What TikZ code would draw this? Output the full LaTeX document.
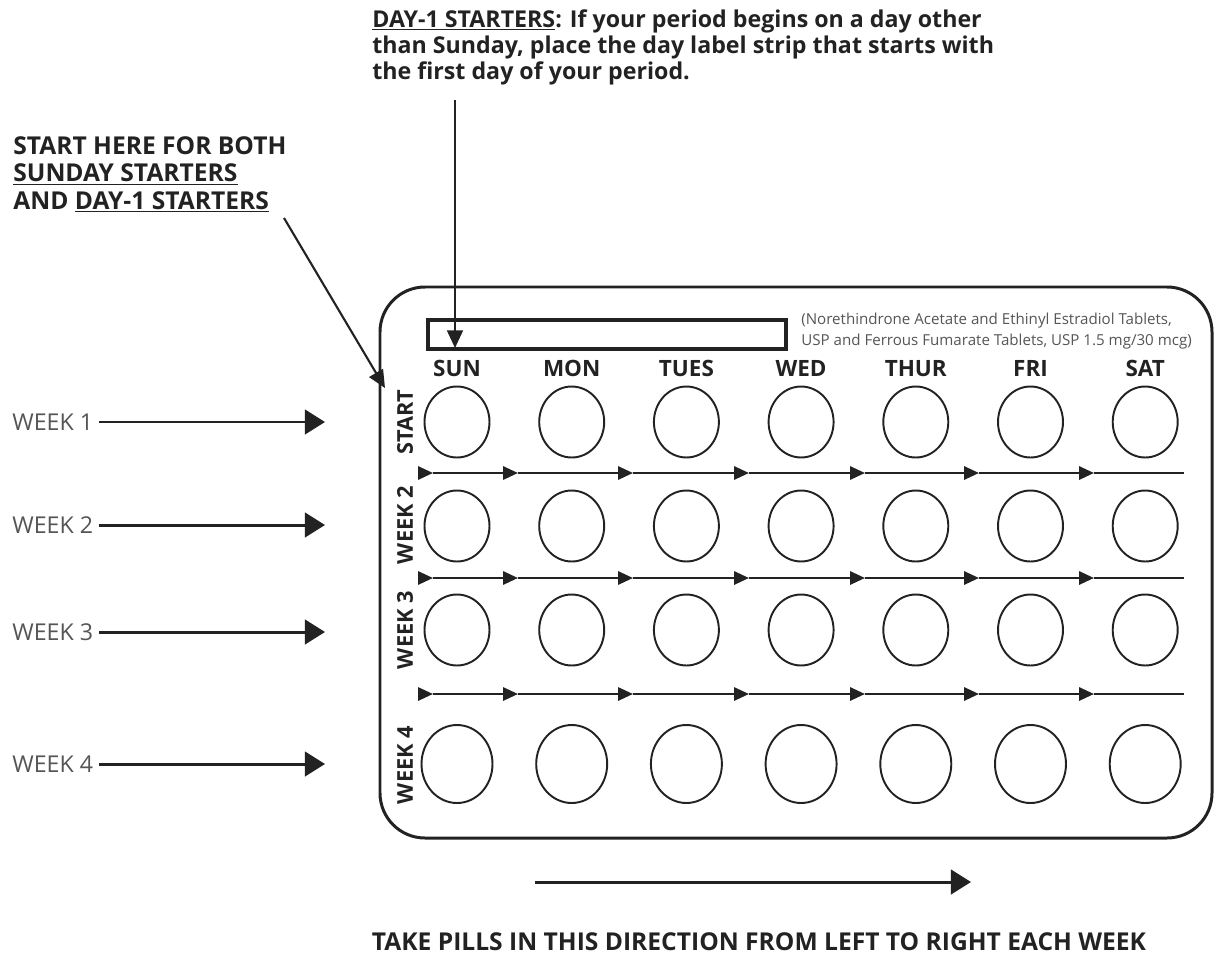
\documentclass[tikz,border=0pt]{standalone}
\usepackage{fontspec}
\setmainfont{Open Sans}
\usetikzlibrary{arrows.meta,shapes.geometric,positioning}

\definecolor{ink}{HTML}{222222}
\definecolor{greyink}{HTML}{555555}

\tikzset{
  blister/.style={draw=ink, line width=1.7pt, rounded corners=0.9cm},
  labelstrip/.style={draw=ink, line width=2pt},
  pill/.style={draw=ink, ellipse, line width=1.1pt, minimum width=1.3cm, minimum height=1.42cm, inner sep=0pt},
  bigpill/.style={pill, minimum width=1.42cm, minimum height=1.56cm},
  daylabel/.style={text=ink, anchor=base, font=\bfseries\fontsize{12.8}{14}\selectfont, inner sep=0pt},
  sidelabel/.style={text=ink, rotate=90, font=\bfseries\fontsize{12.4}{13}\selectfont, inner sep=0pt},
  weeklabel/.style={text=greyink, anchor=west, font=\fontsize{13.2}{14}\selectfont, inner sep=0pt},
  headtext/.style={text=ink, align=left, anchor=north west, inner sep=0pt, font=\bfseries\fontsize{13.2}{14.8}\selectfont},
  rxtext/.style={text=greyink, align=left, anchor=north west, inner sep=0pt, font=\fontsize{8.6}{11.5}\selectfont},
  flow/.style={draw=ink, line width=1.4pt, -{Triangle[length=8.5pt, width=7.5pt]}},
  flowline/.style={draw=ink, line width=1.4pt},
  bigarrow/.style={draw=ink, line width=1.7pt, -{Triangle[length=11.5pt, width=14pt]}},
  pointer/.style={draw=ink, line width=1.2pt, -{Triangle[length=10pt, width=9pt]}}
}

\begin{document}
\begin{tikzpicture}[x=0.02cm, y=-0.02cm]
  \useasboundingbox (0,0) rectangle (1215,954);

  % card and label strip
  \draw[blister] (380,287) rectangle (1212,838);
  \draw[labelstrip] (428,320) rectangle (786,349);
  \node[rxtext] (rx) at (801,313) {(Norethindrone Acetate and Ethinyl Estradiol Tablets,\\USP and Ferrous Fumarate Tablets, USP 1.5 mg/30 mcg)};

  % days and pills
  \foreach \d [count=\i from 0] in {SUN,MON,TUES,WED,THUR,FRI,SAT} {
    \node[daylabel] (day-\i) at ({457+114.7*\i},376) {\d};
    \foreach \yy [count=\r] in {422,526,630}
      \node[pill] (pill-\r-\i) at ({457+114.7*\i},\yy) {};
    \node[bigpill] (pill-4-\i) at ({457+114.7*\i},764) {};
  }

  % week labels on the card
  \node[sidelabel] (side-1) at (405,422) {START};
  \node[sidelabel] (side-2) at (405,525) {WEEK 2};
  \node[sidelabel] (side-3) at (405,630) {WEEK 3};
  \node[sidelabel] (side-4) at (405,765) {WEEK 4};

  % arrows between the rows
  \foreach \yy in {473,578,694} {
    \draw[flow] (419,\yy) -- (433,\yy);
    \foreach \a/\b in {433/518,518/633,633/749,749/865,865/979,979/1094}
      \draw[flow] (\a,\yy) -- (\b,\yy);
    \draw[flowline] (1094,\yy) -- (1184,\yy);
  }

  % weeks on the left
  \foreach \w/\yy in {1/422,2/525,3/632,4/764} {
    \node[weeklabel] (week-\w) at (12,\yy) {WEEK \w};
    \coordinate (weektip-\w) at (325,\yy);
    \draw[bigarrow] ([xshift=3pt]week-\w.east) -- (weektip-\w);
  }

  % notes
  \node[headtext] (dayone) at (372,9) {\underline{DAY-1 STARTERS}: If your period begins on a day other\\than Sunday, place the day label strip that starts with\\the first day of your period.};
  \coordinate (striptop) at (455,100);
  \coordinate (striptip) at (455,348);
  \draw[pointer] (striptop) -- (striptip);

  \node[headtext, font=\bfseries\fontsize{14}{15.6}\selectfont] (starthere) at (13,136) {START HERE FOR BOTH\\\underline{SUNDAY STARTERS}\\AND \underline{DAY-1 STARTERS}};
  \coordinate (starttail) at (284,218);
  \coordinate (starttip) at (385,388);
  \draw[pointer] (starttail) -- (starttip);

  % direction
  \coordinate (dirtail) at (535,882);
  \coordinate (dirtip) at (971,882);
  \draw[bigarrow] (dirtail) -- (dirtip);
  \node[text=ink, anchor=base, inner sep=0pt, font=\bfseries\fontsize{14}{15}\selectfont] (direction) at (759,950) {TAKE PILLS IN THIS DIRECTION FROM LEFT TO RIGHT EACH WEEK};
\end{tikzpicture}
\end{document}
